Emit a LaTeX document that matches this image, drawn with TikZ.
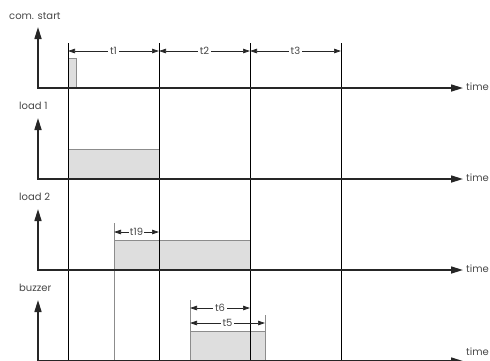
\documentclass[tikz,border=0pt]{standalone}
\usepackage{fontspec}
\setmainfont{Poppins}
\usetikzlibrary{arrows.meta,calc}
\begin{document}
\begin{tikzpicture}[x=1pt,y=-1pt,
  axis/.style={line width=1.6pt, draw=black!85, {Triangle[length=12pt,width=7pt]}-{Triangle[length=12pt,width=7pt]}},
  vline/.style={line width=0.8pt, draw=black},
  gline/.style={line width=1pt, draw=black!45},
  pulse/.style={fill=black!13, draw=black!45, line width=0.8pt},
  dim/.style={{Triangle[length=7pt,width=4.5pt]}-{Triangle[length=7pt,width=4.5pt]}, line width=0.7pt, draw=black!85},
  lbl/.style={font=\fontsize{10}{12}\selectfont, text=black!72, inner sep=1pt},
  dl/.style={lbl, fill=white, inner sep=2pt}]
\useasboundingbox (0,0) rectangle (490,360);
\clip (0,0) rectangle (490,360);

% coordinates of reference lines
\coordinate (atop) at (68,43);  \coordinate (abot) at (68,362);
\coordinate (btop) at (159,43); \coordinate (bbot) at (159,362);
\coordinate (ctop) at (250,43); \coordinate (cbot) at (250,362);
\coordinate (dtop) at (341,43); \coordinate (dbot) at (341,362);
\coordinate (g1top) at (114,223); \coordinate (g1bot) at (114,362);
\coordinate (g2top) at (190,300); \coordinate (g2bot) at (190,362);
\coordinate (g3top) at (265,315); \coordinate (g3bot) at (265,362);

% pulses
\draw[pulse] (68,88) rectangle (76,58);
\draw[pulse] (68,179) rectangle (159,149);
\draw[pulse] (114,270) rectangle (250,240);
\draw[pulse] (190,361) rectangle (265,331);

% vertical lines
\draw[vline] (atop) -- (abot);
\draw[vline] (btop) -- (bbot);
\draw[vline] (ctop) -- (cbot);
\draw[vline] (dtop) -- (dbot);
\draw[gline] (g1top) -- (g1bot);
\draw[gline] (g2top) -- (g2bot);
\draw[gline] (g3top) -- (g3bot);

% axes
\coordinate (up1) at (38,27);  \coordinate (org1) at (38,88);  \coordinate (end1) at (463,88);
\coordinate (up2) at (38,118); \coordinate (org2) at (38,179); \coordinate (end2) at (463,179);
\coordinate (up3) at (38,209); \coordinate (org3) at (38,270); \coordinate (end3) at (463,270);
\coordinate (up4) at (38,300); \coordinate (org4) at (38,361); \coordinate (end4) at (463,361);
\draw[axis] (up1) -- (org1) -- (end1);
\draw[axis] (up2) -- (org2) -- (end2);
\draw[axis] (up3) -- (org3) -- (end3);
\draw[axis] (up4) -- (org4) -- (end4);
\node[lbl, anchor=west] (time1) at (465,87) {time};
\node[lbl, anchor=west] (time2) at (465,178) {time};
\node[lbl, anchor=west] (time3) at (465,269) {time};
\node[lbl, anchor=west] (time4) at (465,352) {time};

% signal labels
\node[lbl, anchor=west] (ls1) at (8,16) {com. start};
\node[lbl, anchor=west] (ls2) at (18,106) {load 1};
\node[lbl, anchor=west] (ls3) at (18,197) {load 2};
\node[lbl, anchor=west] (ls4) at (18,288) {buzzer};

% dimensions
\coordinate (t1a) at (68,51);  \coordinate (t1b) at (159,51);
\coordinate (t2a) at (159,51); \coordinate (t2b) at (250,51);
\coordinate (t3a) at (250,51); \coordinate (t3b) at (341,51);
\coordinate (t19a) at (114,232); \coordinate (t19b) at (159,232);
\coordinate (t6a) at (190,308); \coordinate (t6b) at (250,308);
\coordinate (t5a) at (190,323); \coordinate (t5b) at (265,323);
\draw[dim] (t1a) -- (t1b);
\draw[dim] (t2a) -- (t2b);
\draw[dim] (t3a) -- (t3b);
\draw[dim] (t19a) -- (t19b);
\draw[dim] (t6a) -- (t6b);
\draw[dim] (t5a) -- (t5b);
\node[dl] (l1) at ($(t1a)!0.5!(t1b)$) {t1};
\node[dl] (l2) at ($(t2a)!0.5!(t2b)$) {t2};
\node[dl] (l3) at ($(t3a)!0.5!(t3b)$) {t3};
\node[dl, inner sep=1.2pt] (l19) at ($(t19a)!0.5!(t19b)$) {t19};
\node[dl] (l6) at ($(t6a)!0.5!(t6b)$) {t6};
\node[dl] (l5) at ($(t5a)!0.5!(t5b)$) {t5};
\end{tikzpicture}
\end{document}
